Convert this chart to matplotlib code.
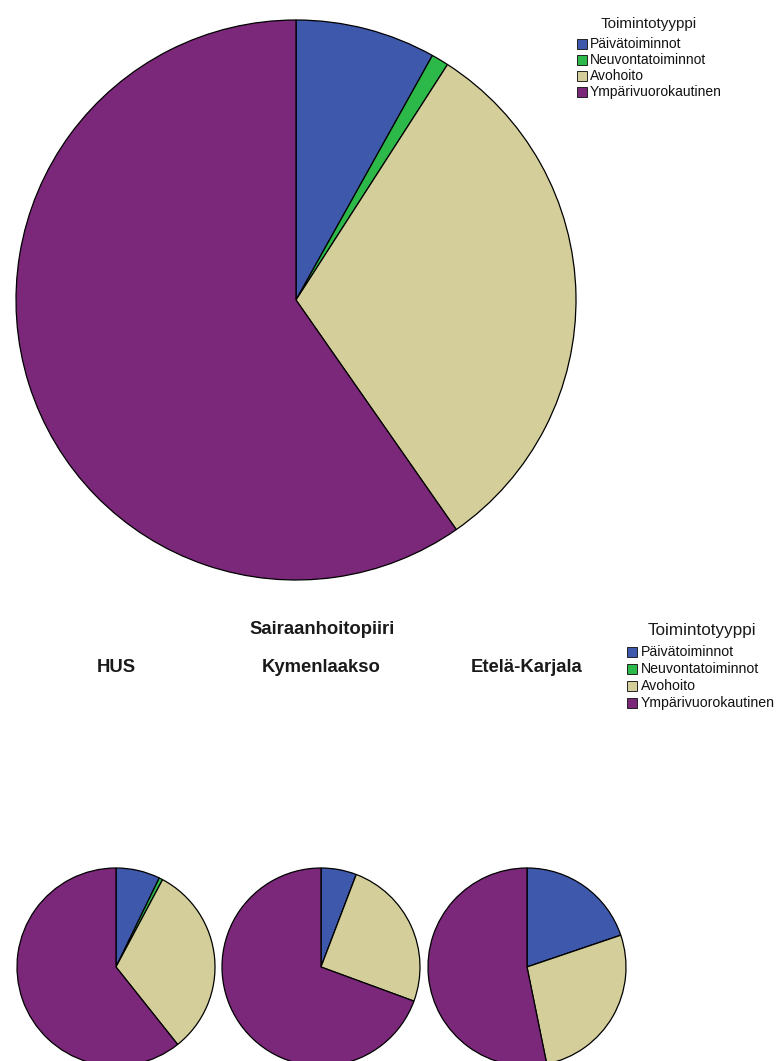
import matplotlib
matplotlib.use("Agg")
import matplotlib.pyplot as plt
from matplotlib.patches import Rectangle

plt.rcParams['font.family'] = ['Liberation Sans', 'DejaVu Sans']

# toimintotyypit ja osuudet (%)
categories = ["Päivätoiminnot", "Neuvontatoiminnot", "Avohoito", "Ympärivuorokautinen"]
colors = ["#3E58AC", "#2DB84A", "#D4CF9A", "#7B277A"]

total_share = [8.1, 1.0, 31.2, 59.7]

districts = ["HUS", "Kymenlaakso", "Etelä-Karjala"]
district_share = [
    [7.2, 0.6, 31.5, 60.7],
    [5.8, 0.0, 24.8, 69.4],
    [19.8, 0.0, 27.0, 53.2],
]

W, H = 779, 1061
fig = plt.figure(figsize=(W / 100, H / 100), dpi=100)
ax = fig.add_axes([0, 0, 1, 1])

wedge_style = dict(edgecolor="black", linewidth=0.9)

def draw_pie(values, cx, cy, r):
    ax.pie(values, colors=colors, startangle=90, counterclock=False,
           center=(cx, H - cy), radius=r, wedgeprops=wedge_style,
           normalize=True)

# koko aineisto
draw_pie(total_share, 296, 300, 280)

# sairaanhoitopiireittäin
pie_x = [116, 321, 527]
for name, vals, x in zip(districts, district_share, pie_x):
    draw_pie(vals, x, 967, 99)
    ax.text(x, H - 667, name, ha="center", va="center",
            fontsize=13.3, fontweight="bold", color="#1a1a1a")

ax.text(322, H - 630, "Sairaanhoitopiiri", ha="center", va="center",
        fontsize=13.3, fontweight="bold", color="#1a1a1a")

ax.set_xlim(0, W)
ax.set_ylim(0, H)
ax.set_aspect("auto")
ax.axis("off")

def add_legend(x, title_y, row_y, step, size, fs, title_fs, title_x):
    # selite: otsikko ja värilaatikot riveittäin
    ax.text(title_x, H - title_y, "Toimintotyyppi", ha="center", va="center",
            fontsize=title_fs, color="#1a1a1a")
    for i, (lab, c) in enumerate(zip(categories, colors)):
        y = row_y + i * step
        ax.add_patch(Rectangle((x, H - y - size / 2), size, size,
                               facecolor=c, edgecolor="#222222", linewidth=0.7))
        ax.text(x + size + 3, H - y, lab, ha="left", va="center",
                fontsize=fs, color="#111111")

add_legend(577, 24, 44, 16, 10, 10, 11, 649)
add_legend(627, 631, 652, 17, 10.5, 10.2, 12.3, 702)

fig.savefig("out.png", dpi=100)
